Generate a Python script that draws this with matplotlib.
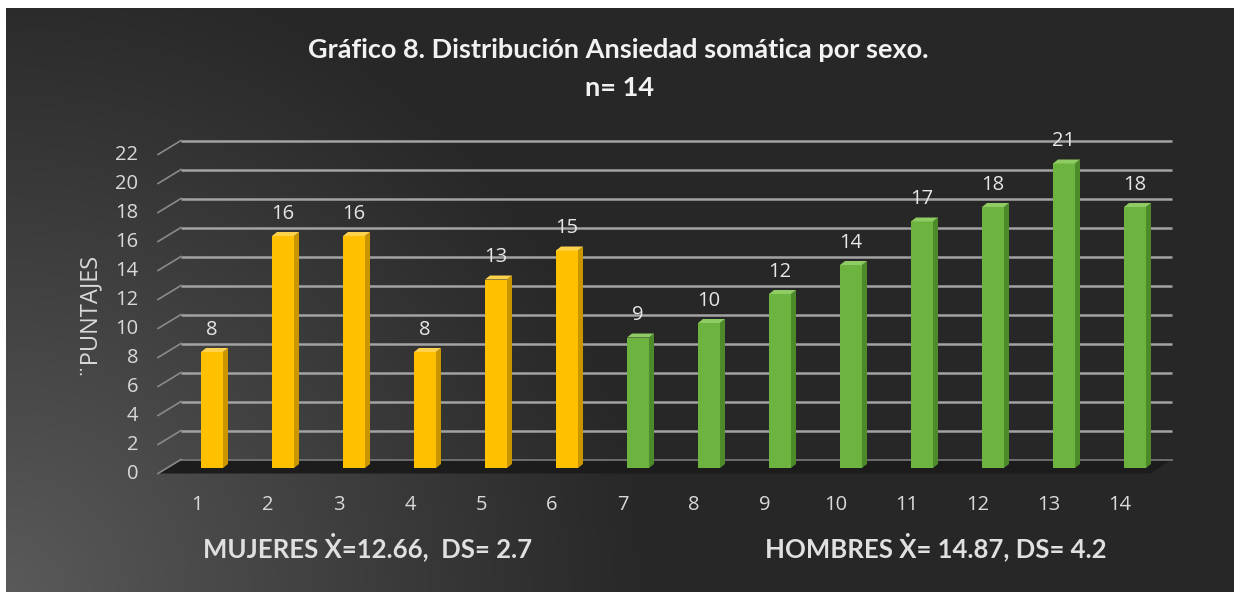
import numpy as np
import matplotlib
matplotlib.use("Agg")
import matplotlib.pyplot as plt
from matplotlib.patches import Polygon

# ---------------- data ----------------
categories = list(range(1, 15))
mujeres = [8, 16, 16, 8, 13, 15]
hombres = [9, 10, 12, 14, 17, 18, 21, 18]
values = mujeres + hombres
y_ticks = list(range(0, 23, 2))
title_line1 = "Gráfico 8. Distribución Ansiedad somática por sexo."
title_line2 = "n= 14"
y_label = "¨PUNTAJES"
mujeres_text = "MUJERES Ẋ=12.66,  DS= 2.7"
hombres_text = "HOMBRES Ẋ= 14.87, DS= 4.2"

# ---------------- figure ----------------
W, H = 1234, 592
fig = plt.figure(figsize=(W / 100, H / 100), dpi=100, facecolor="white")

# background with radial gradient
bg = fig.add_axes([6 / W, 0, (W - 6) / W, (H - 8) / H])
bg.set_axis_off()
gh, gw = H - 8, W - 6
yy, xx = np.mgrid[0:gh, 0:gw]
r = np.sqrt(xx ** 2 + (gh - yy) ** 2)
b = 0x27 + (0x5a - 0x27) * np.clip(1 - r / 650.0, 0, 1) ** 1.05
img = np.dstack([b, b, b]) / 255.0
bg.imshow(img, aspect="auto", extent=[0, 1, 0, 1], origin="upper")
bg.set_xlim(0, 1)
bg.set_ylim(0, 1)

# main axes mapped to pixel geometry
ax = fig.add_axes([0, 0, 1, 1])
ax.patch.set_alpha(0)
ax.set_axis_off()
px_per_x = 71.0
px_per_y = 14.5
x0_px, base_px = 197.0, 468.0
ax.set_xlim(1 - x0_px / px_per_x, 1 + (W - x0_px) / px_per_x)
ax.set_ylim(-(H - base_px) / px_per_y, base_px / px_per_y)

dyo = 8.5 / px_per_y          # back offset of grid
dyf = 5.5 / px_per_y          # front offset of grid
xb_back = 1 + (181 - x0_px) / px_per_x
xb_front = 1 + (158 - x0_px) / px_per_x
x_end = 1 + (1172 - x0_px) / px_per_x
x_end_front = 1 + (1150 - x0_px) / px_per_x

grid_col = "#a3a3a3"
tick_font = ["Open Sans", "DejaVu Sans"]
# floor
floor = Polygon([(xb_front, -dyf), (xb_back, dyo), (x_end, dyo), (x_end_front, -dyf)],
                closed=True, facecolor="#1c1c1c", edgecolor="none", zorder=1)
ax.add_patch(floor)
ax.plot([xb_back, x_end], [dyo, dyo], color="#6e6e6e", lw=1.4, zorder=1)
for v in y_ticks:
    if v > 0:
        ax.plot([xb_back, x_end], [v + dyo, v + dyo], color=grid_col, lw=1.8, zorder=1,
                solid_capstyle="butt")
    ax.plot([xb_front, xb_back], [v - dyf, v + dyo], color="#8a8a8a", lw=1.2, zorder=1)
    ax.text(1 + (138 - x0_px) / px_per_x, v - 0.4, str(v), ha="right", va="center",
            fontsize=14.5, color="#d9d9d9", family=tick_font)

# bars
bar_off = 15 / px_per_x
bw = 22 / px_per_x
dx = 5 / px_per_x
dy = 4 / px_per_y
for i, (c, v) in enumerate(zip(categories, values)):
    female = i < len(mujeres)
    front = "#ffc000" if female else "#6cb33f"
    side = "#c99600" if female else "#4d8a2a"
    top = "#ffd24d" if female else "#8fcc63"
    xc = c + bar_off
    ax.bar([xc], [v], width=bw, bottom=0, color=front, edgecolor="none", zorder=3)
    x1, x2 = xc - bw / 2, xc + bw / 2
    ax.add_patch(Polygon([(x2, 0), (x2 + dx, dy), (x2 + dx, v + dy), (x2, v)],
                         closed=True, facecolor=side, edgecolor="none", zorder=3))
    ax.add_patch(Polygon([(x1, v), (x1 + dx, v + dy), (x2 + dx, v + dy), (x2, v)],
                         closed=True, facecolor=top, edgecolor="none", zorder=3))
    ax.text(xc, v + 1.55, str(v), ha="center", va="center", fontsize=14.5,
            color="#e6e6e6", family=tick_font, zorder=4)
    ax.text(c, -(505 - base_px) / px_per_y, str(c), ha="center", va="center",
            fontsize=14.5, color="#d9d9d9", family=tick_font)

# titles and annotations (figure pixel coords)
def fx(px):
    return px / W

def fy(py):
    return 1 - py / H

title_font = ["Lato", "DejaVu Sans"]
fig.text(fx(618), fy(50), title_line1, ha="center", va="center", fontsize=19.5,
         fontweight="bold", color="#f2f2f2", family=title_font)
fig.text(fx(620), fy(88), title_line2, ha="center", va="center", fontsize=19.5,
         fontweight="bold", color="#f2f2f2", family=title_font)
fig.text(fx(88), fy(313), y_label, rotation=90, ha="center", va="center",
         fontsize=17, color="#d9d9d9", family=tick_font)
fig.text(fx(203), fy(547), mujeres_text, ha="left", va="center", fontsize=18.5,
         fontweight="bold", color="#e0e0e0", family=title_font)
fig.text(fx(765), fy(547), hombres_text, ha="left", va="center", fontsize=18.5,
         fontweight="bold", color="#e0e0e0", family=title_font)

fig.savefig("out.png", dpi=100, facecolor="white")
